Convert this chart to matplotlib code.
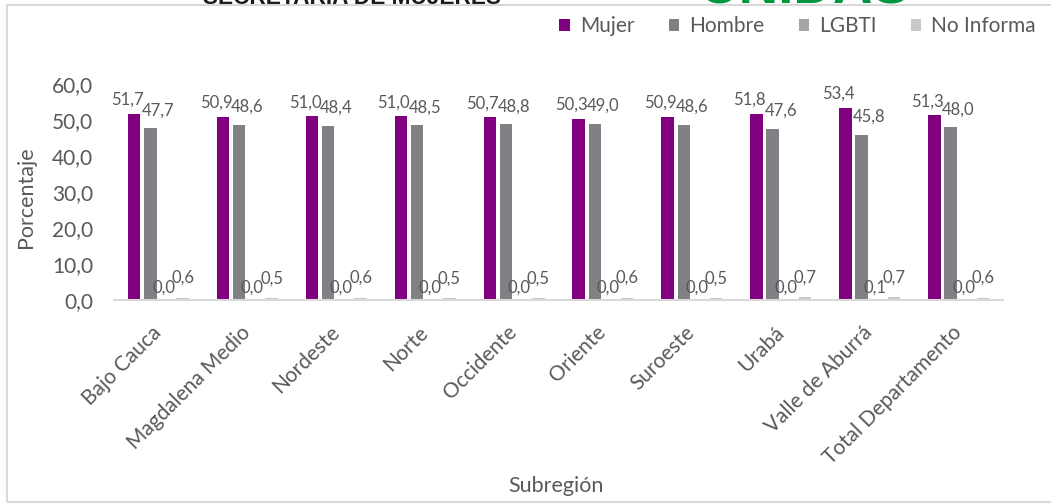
import matplotlib
matplotlib.use("Agg")
import matplotlib.pyplot as plt
from matplotlib.patches import Patch, Rectangle
import numpy as np

plt.rcParams['font.family'] = ['Lato', 'DejaVu Sans']

categories = ["Bajo Cauca", "Magdalena Medio", "Nordeste", "Norte", "Occidente",
              "Oriente", "Suroeste", "Urabá", "Valle de Aburrá", "Total Departamento"]
mujer = [51.7, 50.9, 51.0, 51.0, 50.7, 50.3, 50.9, 51.8, 53.4, 51.3]
hombre = [47.7, 48.6, 48.4, 48.5, 48.8, 49.0, 48.6, 47.6, 45.8, 48.0]
lgbti = [0.0, 0.0, 0.0, 0.0, 0.0, 0.0, 0.0, 0.0, 0.1, 0.0]
no_informa = [0.6, 0.5, 0.6, 0.5, 0.5, 0.6, 0.5, 0.7, 0.7, 0.6]
series_names = ["Mujer", "Hombre", "LGBTI", "No Informa"]
yticks = [0, 10, 20, 30, 40, 50, 60]

colors = ["#800080", "#808085", "#A5A5A5", "#C8C8C8"]
text_color = "#595959"
W, H = 1051, 504

fig = plt.figure(figsize=(W / 100, H / 100), dpi=100)
ax = fig.add_axes([114 / W, 204 / H, 889 / W, 216 / H])

def fmt(v):
    return f"{v:.1f}".replace(".", ",")

x = np.arange(len(categories))
step = 0.182
width = 0.14
series = [mujer, hombre, lgbti, no_informa]
label_offsets = [(-7, 9), (8, 13), (-3, 7), (0, 15)]
for k, (vals, col, name) in enumerate(zip(series, colors, series_names)):
    xs = x + (k - 1.5) * step
    ax.bar(xs, vals, width=width, color=col, label=name, zorder=2)
    dx, dy = label_offsets[k]
    for xi, v in zip(xs, vals):
        ax.annotate(fmt(v), (xi, v), xytext=(dx, dy), textcoords="offset pixels",
                    ha="center", va="baseline", fontsize=12, color=text_color,
                    zorder=3)

ax.set_xlim(-0.5, len(categories) - 0.5)
ax.set_ylim(0, 60)
ax.set_yticks(yticks)
ax.set_yticklabels([fmt(v) for v in yticks])
ax.set_xticks(x)
ax.set_xticklabels(categories, rotation=45, ha="right", va="center",
                   rotation_mode="anchor")
ax.tick_params(axis="y", length=0, pad=15, labelsize=15, labelcolor=text_color)
ax.tick_params(axis="x", length=0, pad=21, labelsize=15, labelcolor=text_color)
for s in ["top", "right", "left"]:
    ax.spines[s].set_visible(False)
ax.spines["bottom"].set_color("#D9D9D9")
ax.spines["bottom"].set_linewidth(1.5)
ax.spines["bottom"].set_zorder(4)

fig.text(26 / W, 1 - 197 / H, "Porcentaje", rotation=90, ha="center", va="center",
         fontsize=15.5, color=text_color)
fig.text(556 / W, 1 - 486 / H, "Subregión", ha="center", va="center",
         fontsize=15.5, color=text_color)

handles = [Patch(facecolor=c, edgecolor="none", label=n) for c, n in zip(colors, series_names)]
fig.legend(handles=handles, loc="center right", bbox_to_anchor=(1036 / W, 1 - 26 / H),
           ncol=4, frameon=False, fontsize=15, handlelength=0.5, handleheight=0.5,
           handletextpad=0.48, columnspacing=1.65, borderpad=0, borderaxespad=0,
           labelcolor=text_color)

# chart border
fig.patches.append(Rectangle((7 / W, 1 - 502 / H), (1060 - 7) / W, (502 - 5) / H,
                             transform=fig.transFigure, fill=False,
                             edgecolor="#D9D9D9", linewidth=1.5, zorder=5))

# cropped header (only its lower edge shows above the chart frame)
fig.text(352 / W, 1 - 4 / H, "SECRETARIA DE MUJERES", ha="center", va="baseline",
         fontsize=16.3, fontweight="bold", color="#1a1a1a", family="Liberation Sans")
fig.text(805 / W, 1 - 4 / H, "UNIDAS", ha="center", va="baseline",
         fontsize=39.5, fontweight="bold", color="#00963F", family="Liberation Sans")

fig.savefig("out.png", dpi=100)
